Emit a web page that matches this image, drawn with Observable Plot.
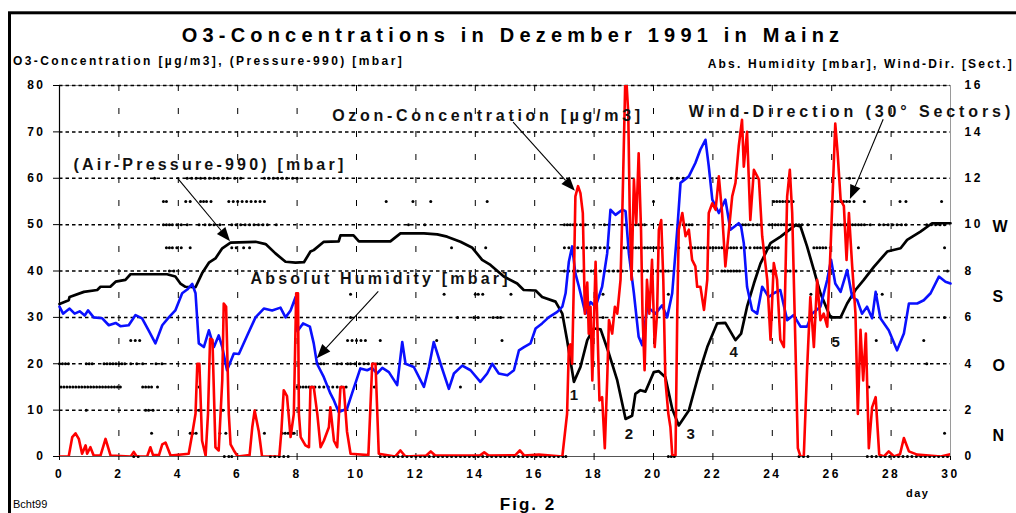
<!DOCTYPE html>
<html><head><meta charset="utf-8">
<script src="https://cdn.jsdelivr.net/npm/d3@7"></script>
<script src="https://cdn.jsdelivr.net/npm/@observablehq/plot@0.6"></script>
<style>
body{margin:0;background:#fff;}
#chart svg{font-family:"Liberation Sans",Arial,sans-serif;}
#chart svg g[aria-label$="tick label"] text{letter-spacing:2.5px;}
</style>
</head><body><div id="chart"></div>
<script>
// ---- data ----
const dayTicks = [0,2,4,6,8,10,12,14,16,18,20,22,24,26,28,30];
const leftTicks = [0,10,20,30,40,50,60,70,80];
const rightTicks = [0,2,4,6,8,10,12,14,16];
const compassLabels = ["N","O","S","W"];
const compassSector = [0.9,3.9,6.9,9.9];

const pressureDay = [0,0.31,0.34,0.82,1.27,1.38,1.71,1.89,2.22,2.39,3.62,3.9,4.07,4.24,4.58,4.8,5.03,5.25,5.48,5.76,6.6,6.94,7.27,7.61,7.95,8.23,8.45,8.56,8.9,9.4,9.46,9.9,10.08,11.14,11.48,12.27,12.72,13.05,13.5,13.9,14.23,14.51,14.96,15.41,15.63,16.03,16.25,16.7,16.93,17.09,17.32,17.54,17.77,17.99,18.22,18.5,18.78,19.06,19.28,19.39,19.56,19.73,20.01,20.18,20.4,20.63,20.85,21.19,21.53,21.81,22.14,22.42,22.76,22.95,23.15,23.38,23.6,23.94,24.28,24.78,24.95,25.17,25.4,25.62,25.96,26.3,26.52,26.8,27.08,27.42,27.87,28.32,28.54,28.99,29.38,30];
const pressureVal = [32.9,33.7,34.4,35.5,35.9,36.6,36.6,37.7,38.1,39.3,39.3,38.8,37.3,36.6,36.5,39.5,41.8,42.7,44.9,46.1,46.3,45.8,43.8,42.0,41.8,41.9,44.2,44.5,46.3,46.4,47.7,47.7,46.4,46.4,48.1,48.1,47.9,47.4,46.3,45.0,42.4,41.3,38.8,37.3,35.9,35.8,34.4,33.4,30.8,25.1,16.1,19.3,25.1,27.6,27.4,22.2,16.4,8.1,8.8,13.5,14.3,14.0,18.2,18.4,17.1,10.3,6.7,9.9,17.9,23.6,28.7,28.8,25.1,26.5,32.3,37.3,41.6,46.0,47.4,49.9,49.6,45.3,40.2,35.2,30.0,30.0,33.0,35.9,38.1,40.9,44.2,44.9,46.7,48.5,50.3,50.3];

const humidityDay = [0,0.12,0.34,0.51,0.68,0.85,0.96,1.15,1.44,1.66,1.89,2.05,2.33,2.56,2.78,3.0,3.23,3.46,3.68,3.9,4.13,4.3,4.47,4.58,4.69,4.86,5.03,5.2,5.36,5.48,5.64,5.87,6.04,6.32,6.6,6.88,7.16,7.44,7.61,7.78,7.95,8.01,8.2,8.43,8.56,8.67,8.9,9.12,9.24,9.4,9.68,9.85,10.13,10.36,10.52,10.69,10.87,11.09,11.37,11.54,11.65,11.93,12.27,12.44,12.6,12.83,13.11,13.28,13.56,13.84,14.17,14.4,14.57,14.79,15.08,15.3,15.47,15.64,15.86,16.03,16.25,16.47,16.76,16.93,17.04,17.15,17.26,17.37,17.49,17.6,17.71,17.88,18.05,18.27,18.44,18.55,18.72,18.95,19.06,19.17,19.34,19.5,19.62,19.79,20.07,20.29,20.46,20.63,20.8,20.91,21.19,21.41,21.58,21.75,21.86,21.98,22.2,22.42,22.59,22.87,22.95,23.04,23.15,23.32,23.49,23.66,23.88,24.05,24.27,24.5,24.72,24.95,25.17,25.34,25.62,25.85,25.98,26.12,26.3,26.52,26.69,26.86,27.02,27.19,27.36,27.48,27.64,27.92,28.2,28.43,28.6,28.88,29.1,29.33,29.61,29.83,30];
const humidityVal = [6.46,6.16,6.38,6.16,6.26,6.08,6.3,6.0,5.96,5.66,5.76,5.62,5.66,6.1,5.96,5.44,4.88,5.66,6.0,6.3,7.04,7.2,7.44,7.04,4.88,4.72,5.44,4.72,5.22,4.72,3.72,4.44,4.42,5.22,6.0,6.38,6.3,6.42,6.0,6.3,6.88,5.4,5.74,5.6,4.88,4.0,3.42,2.72,2.42,1.92,2.06,2.72,3.8,3.72,3.82,3.58,3.82,3.64,3.08,4.94,4.0,3.86,3.0,3.86,4.94,4.0,2.92,3.58,3.92,3.72,3.22,3.58,4.0,3.58,3.5,3.72,4.58,4.72,4.88,5.52,5.74,6.0,6.24,6.46,7.04,8.4,9.06,7.9,7.32,6.74,6.16,6.66,6.46,7.32,8.76,10.64,10.42,10.64,10.58,8.76,7.04,5.16,4.8,6.46,6.16,6.52,6.0,7.04,9.78,11.8,12.08,12.66,13.24,13.66,12.52,11.08,10.5,11.08,9.78,10.06,9.92,9.2,7.32,6.32,6.16,7.32,6.88,7.04,7.18,5.88,6.1,5.6,5.6,6.16,6.46,7.62,8.48,7.46,7.1,8.04,6.88,6.74,6.16,6.46,5.96,7.1,5.96,5.44,4.58,5.3,6.6,6.6,6.74,7.04,7.76,7.54,7.46];

const ozoneDay = [0,0.31,0.43,0.54,0.65,0.76,0.88,0.93,1.04,1.15,1.38,1.55,1.72,2.4,2.5,2.6,2.95,3.06,3.15,3.35,3.46,3.57,3.74,4.35,4.47,4.58,4.64,4.71,4.8,4.92,5.0,5.07,5.15,5.25,5.36,5.48,5.53,5.61,5.7,5.76,5.87,6.0,6.4,6.49,6.57,6.71,6.82,7.4,7.47,7.55,7.66,7.78,7.89,7.97,8.03,8.06,8.12,8.28,8.4,8.45,8.56,8.68,8.79,8.9,9.07,9.12,9.24,9.35,9.46,9.57,9.68,9.8,10.4,10.53,10.64,10.75,11.3,11.48,11.65,12.35,12.5,12.65,14.15,14.3,14.45,15.35,15.5,15.65,16.14,16.93,17.09,17.15,17.2,17.26,17.32,17.37,17.46,17.54,17.62,17.69,17.77,17.82,17.88,17.94,18.05,18.1,18.18,18.27,18.36,18.44,18.5,18.61,18.7,18.78,18.89,18.95,19.0,19.06,19.15,19.2,19.26,19.34,19.42,19.5,19.58,19.63,19.7,19.78,19.86,19.95,20.04,20.12,20.18,20.26,20.33,20.4,20.5,20.57,20.63,20.74,20.8,20.85,20.97,21.08,21.19,21.3,21.41,21.47,21.58,21.7,21.81,21.86,21.98,22.09,22.2,22.31,22.42,22.53,22.65,22.76,22.87,22.98,23.04,23.15,23.26,23.38,23.55,23.66,23.83,23.94,24.05,24.16,24.27,24.39,24.5,24.59,24.67,24.78,24.86,24.95,25.06,25.17,25.28,25.4,25.51,25.62,25.73,25.85,25.96,26.05,26.12,26.2,26.3,26.41,26.5,26.58,26.69,26.8,26.88,26.97,27.06,27.15,27.25,27.36,27.48,27.6,27.76,27.92,28.1,28.3,28.43,28.6,28.88,29.67,30];
const ozoneVal = [0,0,4.2,5.0,3.8,0.6,2.4,0.6,2.0,0.2,0.2,3.8,0.2,0,1.0,0,0,2.0,0.3,0.3,2.6,3.0,0.2,0.6,4.9,9.2,20.0,20.0,3.4,0.2,9.2,25.4,25.2,2.0,1.3,16.4,33.0,32.3,9.2,2.6,1.3,0,0.3,6.3,9.9,5.4,0,0,5.4,14.3,13.0,4.2,9.2,35.2,35.2,9.2,4.2,2.4,2.0,15.0,15.0,9.2,2.0,3.4,6.3,10.6,3.4,2.0,15.0,15.0,5.4,0.6,0.3,20.0,20.0,0.6,0,1.3,0,0.2,1.1,0.2,0.2,0.9,0.2,0.3,1.3,0.2,0.4,0,9.2,23.6,24.2,20.0,38.1,56.1,58.3,56.8,52.5,30.8,37.5,26.5,32.3,16.4,42.0,30.8,12.1,12.8,1.8,16.4,29.4,26.5,32.3,30.8,38.1,52.5,66.9,84,74.1,52.5,38.1,59.7,50.3,65.4,48.9,30.8,18.6,38.1,30.8,42.4,23.6,30.8,48.9,51.0,38.1,16.4,9.2,6.3,0.4,0,30.8,48.9,52.5,47.5,48.9,42.4,41.0,36.6,36.6,31.6,38.1,52.5,54.6,53.2,60.4,52.5,41.0,48.2,56.1,59.0,66.9,72.6,62.5,70.0,51.0,61.8,59.7,47.5,38.1,25.2,41.7,38.1,25.2,23.6,56.1,61.8,52.5,23.6,1.8,0,0,18.6,34.4,23.6,38.1,29.4,30.8,28.0,44.6,59.7,71.8,65.4,55.4,54.0,42.4,52.5,41.0,30.8,9.2,27.3,16.4,26.5,1.8,10.6,12.8,0.4,0,1.1,0,0.5,4.0,1.1,0.4,0,0.5];

// wind direction readings (day of month) per 30° sector
const windSector0 = [2.5,2.65,5.55,5.7,5.8,7.1,7.25,7.4,7.55,7.7,10.8,10.95,11.1,11.25,11.4,11.55,11.7,11.85,12.0,12.15,12.3,12.45,12.6,12.75,12.9,13.05,13.2,13.35,13.5,13.65,13.8,13.95,14.1,14.25,14.4,14.55,14.7,14.85,15.0,15.15,15.3,15.45,15.6,15.75,15.9,16.05,16.2,16.35,16.5,16.65,16.8,16.95,17.05,20.5,20.6,20.7,24.9,25.05,25.2,27.2,27.35,27.5,27.65,27.8,27.95,28.1,28.25,28.4,28.55,28.7,28.85,29.0,29.15,29.3,29.45,29.6,29.75,29.9];
const windSector1 = [3.1,4.4,4.5,4.6,5.4,5.6,6.9,7.5,7.6,7.7,7.85,7.9,29.8];
const windSector2 = [0.9,2.9,3.0,3.15,4.6,4.7,5.5];
const windSector3 = [0.05,0.15,0.25,0.35,0.45,0.55,0.65,0.75,0.85,0.95,1.05,1.15,1.25,1.35,1.45,1.55,1.65,1.75,1.85,1.95,2.05,2.8,2.9,3.0,3.1,3.3,4.7,8.0,8.1,8.2,8.3,8.4,8.5,8.6,8.75,8.9,9.05,9.2,9.35,9.5,9.65,10.6,13.5,27.25];
const windSector4 = [0.0,0.1,0.2,0.3,0.9,1.0,1.1,1.5,1.6,1.7,1.8,1.9,2.0,2.1,2.2,2.4,2.6,2.8,3.25,3.45,8.7,8.8,8.9,9.35,9.5,9.7,9.8,9.95,10.1,10.25,10.4,10.55,10.7,10.8,29.2];
const windSector5 = [2.4,2.55,2.7,9.7,9.85,10.0,10.15,10.3,10.8,12.7,14.9,27.5,29.1];
const windSector6 = [9.8,13.4,13.95,14.1,14.6,14.75,14.85,18.3,29.8];
const windSector7 = [9.8,12.95,14.0,14.1,14.25,15.2,18.3,20.5,25.3,27.5,27.7];
const windSector8 = [3.7,3.85,17.0,17.15,17.3,17.45,17.6,17.9,18.05,18.2,18.35,18.5,18.65,18.8,18.95,19.5,19.65,19.8,19.95,20.1,20.25,20.4,20.5,22.3,22.4,22.5,22.6,22.7,22.8,22.9,23.95,24.5,24.6,24.8,29.9];
const windSector9 = [3.6,3.7,3.8,3.95,4.1,4.4,5.8,5.95,6.2,6.4,13.2,14.35,17.0,17.15,17.3,17.45,17.6,17.75,17.9,18.05,18.2,18.35,18.5,19.0,19.1,19.2,19.3,19.4,19.5,19.6,19.7,19.8,19.9,20.0,20.1,20.2,20.3,20.85,21.2,21.3,21.4,21.5,21.6,21.7,21.8,21.9,22.0,22.1,22.2,22.3,22.5,22.6,22.7,22.8,22.95,23.1,23.25,23.4,23.5,23.6,23.7,23.8,23.9,24.0,24.1,24.2,25.4,25.5,25.6,25.7,25.8,25.95,26.9,29.8];
const windSector10 = [3.5,3.6,3.7,3.8,3.95,4.1,4.3,4.7,4.9,5.05,5.2,5.4,5.8,5.95,6.1,6.25,6.4,6.55,6.7,6.85,7.0,7.3,11.75,12.3,17.0,17.1,17.2,17.3,17.4,17.55,17.7,18.35,18.5,18.95,19.05,19.4,19.5,19.6,19.7,21.0,21.1,21.2,21.3,22.9,23.0,23.1,23.2,23.35,23.5,23.6,23.9,24.0,24.1,24.2,24.3,24.4,24.5,24.6,24.7,24.8,24.9,25.0,25.2,26.1,26.2,26.3,26.4,26.5,26.6,26.7,26.8,26.9,27.0,27.1,27.3,27.6,27.75,27.9,28.05,28.2,28.35,28.5,29.2,29.35,29.5,29.65,29.8];
const windSector11 = [3.5,3.6,4.25,4.4,4.75,4.85,4.95,5.1,5.7,5.85,6.0,6.15,6.3,6.45,6.6,6.75,6.9,11.0,11.9,12.5,14.4,20.0,24.05,24.15,24.25,24.35,24.45,24.55,24.7,26.0,26.1,26.2,26.3,26.4,26.5,26.6,26.75,27.1,28.3,28.5,29.7];
const windSector12 = [3.2,4.3,4.45,4.6,4.75,4.9,5.05,5.2,5.35,5.5,5.65,5.9,6.1,6.9,7.05,7.2,7.35,7.5,7.65,7.85,8.0,20.6,20.8,21.0,24.6,26.6];

// annotations (data units)
const annoText = ["(Air-Pressure-990) [mbar]","Ozon-Concentration [µg/m3]","Wind-Direction (30° Sectors)","Absolut Humidity [mbar]"];
const annoDay = [0.47,9.18,21.19,6.43];
const annoVal = [62.9,73.4,74.4,38.4];
const annoSpacing = [3.2,3.7,3.9,3.2];
const arrowFromDay = [3.97,15.29,27.75,10.75];
const arrowFromVal = [60.1,72.0,72.6,35.5];
const arrowToDay = [5.76,17.37,26.63,8.68];
const arrowToVal = [46.3,57.2,55.4,21.1];
const minimaLabel = ["1","2","3","4","5"];
const minimaDay = [17.32,19.17,21.25,22.7,26.13];
const minimaVal = [13.2,4.9,4.9,22.6,24.7];

// ---- tables ----
const RIGHT = 5; // right axis unit -> left axis unit
const pressure = pressureDay.map((d,i)=>({day:d, v:pressureVal[i]}));
const humidity = humidityDay.map((d,i)=>({day:d, v:humidityVal[i]*RIGHT}));
const ozone = ozoneDay.map((d,i)=>({day:d, v:ozoneVal[i]}));
const windAll = [windSector0,windSector1,windSector2,windSector3,windSector4,windSector5,windSector6,windSector7,windSector8,windSector9,windSector10,windSector11,windSector12];
const wind = windAll.flatMap((days,s)=>days.map(d=>({day:d, v:s*RIGHT})));
const annos = annoText.map((t,i)=>({t, day:annoDay[i], v:annoVal[i]}));
const minima = minimaLabel.map((t,i)=>({t, day:minimaDay[i], v:minimaVal[i]}));
const compass = compassLabels.map((t,i)=>({t, v:compassSector[i]*RIGHT}));

const chart = Plot.plot({
  width:1016, height:513,
  marginLeft:59, marginRight:66, marginTop:85, marginBottom:57,
  style:{background:"white", overflow:"visible", fontFamily:"Liberation Sans, Arial, sans-serif"},
  x:{domain:[0,30]},
  y:{domain:[0,80]},
  marks:[
    Plot.frame({stroke:"#9a9a9a", strokeWidth:1}),
    Plot.gridY(leftTicks.slice(1), {stroke:"#000", strokeOpacity:1, strokeWidth:1.5, strokeDasharray:"3.5,3"}),
    Plot.gridX(dayTicks.slice(1,-1), {stroke:"#000", strokeOpacity:1, strokeWidth:1, strokeDasharray:"6,17"}),
    Plot.ruleX([0], {stroke:"#000", strokeWidth:1.2}),
    Plot.ruleY([0], {stroke:"#555", strokeWidth:1.2}),
    Plot.axisY(leftTicks, {anchor:"left", label:null, tickSize:6, tickPadding:8, fontSize:12, fontWeight:"bold"}),
    Plot.axisY(rightTicks.map(d=>d*RIGHT), {anchor:"right", label:null, tickSize:0, tickPadding:14, fontSize:12, fontWeight:"bold", tickFormat:d=>d/RIGHT}),
    Plot.axisX(dayTicks, {anchor:"bottom", label:null, tickSize:4, tickPadding:9, fontSize:12, fontWeight:"bold"}),
    Plot.text(compass, {x:30, y:"v", text:"t", dx:42, textAnchor:"start", fontSize:16, fontWeight:"bold", fill:"#000"}),
    Plot.dot(wind, {x:"day", y:"v", r:1.5, fill:"#000", stroke:null}),
    Plot.line(pressure, {x:"day", y:"v", stroke:"#000", strokeWidth:2.7}),
    Plot.line(humidity, {x:"day", y:"v", stroke:"#0a10ff", strokeWidth:2.6}),
    Plot.line(ozone, {x:"day", y:"v", stroke:"#ff0000", strokeWidth:2.6, clip:true}),
    Plot.text(annos, {x:"day", y:"v", text:"t", textAnchor:"start", fontSize:16, fontWeight:"bold", fill:"#111"}),
    Plot.text(minima, {x:"day", y:"v", text:"t", fontSize:15, fontWeight:"bold", fill:"#111"})
  ]
});
document.getElementById("chart").appendChild(chart);

const svg = d3.select(chart);
const xs = chart.scale("x"), ys = chart.scale("y");

// letter spacing of annotation texts
const annoGroups = svg.selectAll('g[aria-label="text"]').nodes();
d3.select(annoGroups[1]).selectAll("text").each(function(d,i){ this.style.letterSpacing = annoSpacing[i]+"px"; });

// arrows with filled heads, positioned via the plot's scales
const arrowG = svg.append("g");
annoText.forEach((_,i)=>{
  const x1 = xs.apply(arrowFromDay[i]), y1 = ys.apply(arrowFromVal[i]);
  const x2 = xs.apply(arrowToDay[i]), y2 = ys.apply(arrowToVal[i]);
  const a = Math.atan2(y2-y1, x2-x1), L = 14, W = 5.5;
  const bx = x2 - L*Math.cos(a), by = y2 - L*Math.sin(a);
  arrowG.append("line").attr("x1",x1).attr("y1",y1).attr("x2",bx).attr("y2",by).attr("stroke","#000").attr("stroke-width",1.1);
  arrowG.append("path").attr("d",`M${x2},${y2}L${bx - W*Math.sin(a)},${by + W*Math.cos(a)}L${bx + W*Math.sin(a)},${by - W*Math.cos(a)}Z`).attr("fill","#000");
});

// outer frame
svg.insert("rect", ":first-child").attr("x",9.5).attr("y",12.8).attr("width",1040).attr("height",540).attr("fill","none").attr("stroke","#000").attr("stroke-width",3);

function addText(t, x, y, opts){
  const el = svg.append("text").attr("x",x).attr("y",y).text(t)
    .attr("font-size",opts.size).attr("font-weight",opts.weight||"bold")
    .attr("text-anchor",opts.anchor||"start").attr("fill","#000");
  if (opts.ls) el.style("letter-spacing", opts.ls+"px");
  return el;
}
addText("O3-Concentrations in Dezember 1991 in Mainz", 513, 42, {size:20, anchor:"middle", ls:5.2});
addText("O3-Concentration [µg/m3], (Pressure-990) [mbar]", 13, 65, {size:12, ls:2.4});
addText("Abs. Humidity [mbar], Wind-Dir. [Sect.]", 1014, 68, {size:12, anchor:"end", ls:2.2});
addText("day", 906, 497, {size:11, ls:1.5});
addText("Fig. 2", 528, 510, {size:17, anchor:"middle", ls:2});
addText("Bcht99", 13, 508, {size:11, weight:"normal"});
</script>
</body></html>
